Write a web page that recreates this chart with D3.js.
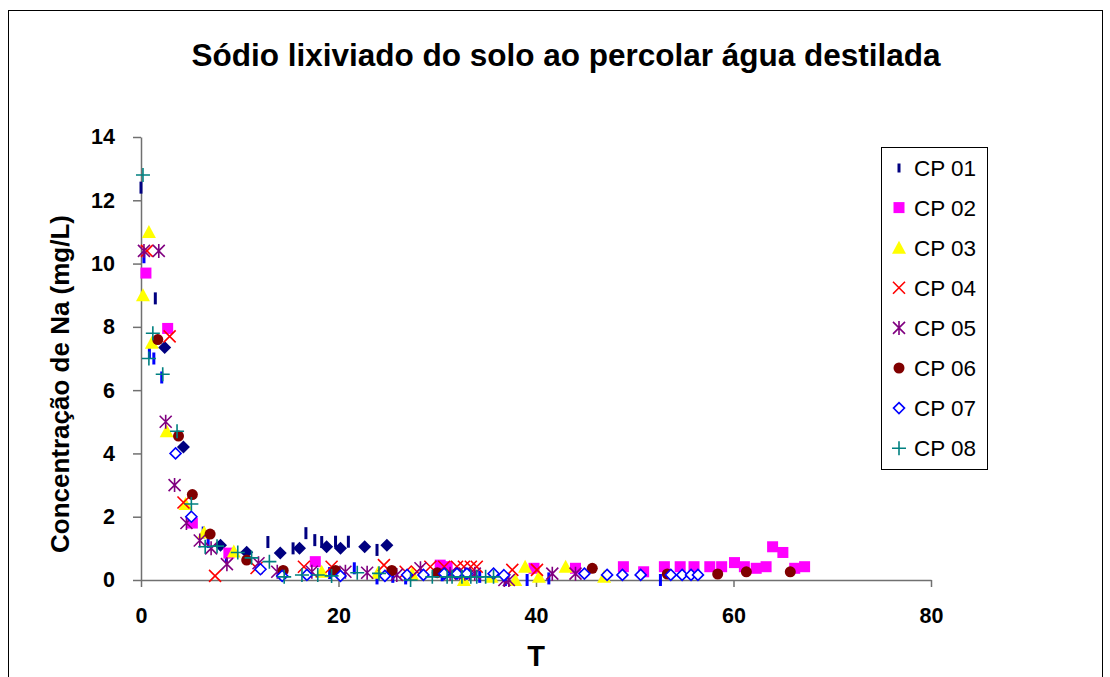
<!DOCTYPE html>
<html>
<head>
<meta charset="utf-8">
<script src="https://cdn.jsdelivr.net/npm/d3@7"></script>
<style>
  html, body { margin: 0; padding: 0; background: #fff; }
  svg { display: block; font-family: "Liberation Sans", Arial, sans-serif; }
</style>
</head>
<body>
<svg id="chart" width="1110" height="677"></svg>
<script>
// Axis ticks
const xTicks = [0, 20, 40, 60, 80];
const yTicks = [0, 2, 4, 6, 8, 10, 12, 14];

// Leaching series: [T, Na mg/L]
const cp01 = [[0, 12.4], [1.45, 8.9], [12.85, 1.2], [15.4, 1.0], [16.7, 1.48], [17.6, 1.26],
  [18.3, 1.2], [19.7, 1.21], [21.0, 1.21], [23.9, 0.95]];
const cp01b = [[0.3, 10.2], [0.85, 7.2], [1.3, 7.0], [2.1, 6.4], [6.3, 1.5], [6.8, 1.2], [8.65, 0.75],
  [19.1, 0.22], [21.6, 0.37], [23.9, 0.05], [25.5, 0.1], [26.8, 0.05], [30.5, 0.15], [34.3, 0.1],
  [36.9, 0.0], [39.1, 0.0], [41.3, 0.05], [52.6, 0.0]];
const cp01d = [[2.4, 7.35], [4.3, 4.2], [8.05, 1.1], [10.7, 0.88], [14.1, 0.85], [16.05, 1.0],
  [18.8, 1.05], [20.2, 1.0], [22.65, 1.05], [24.9, 1.1]];
const cp02 = [[0.5, 9.7], [2.7, 7.95], [5.2, 1.8], [8.9, 0.85], [17.65, 0.58], [30.3, 0.47], [31.0, 0.42],
  [39.8, 0.37], [44.0, 0.37], [48.85, 0.42], [50.9, 0.26], [53.0, 0.42], [54.6, 0.42], [56.0, 0.42],
  [57.6, 0.42], [58.8, 0.42], [60.1, 0.55], [61.1, 0.42], [62.3, 0.37], [63.3, 0.42], [63.96, 1.05],
  [65.0, 0.87], [66.2, 0.37], [67.2, 0.42]];
const cp03 = [[0.2, 9.0], [0.8, 11.0], [1.1, 7.5], [2.6, 4.7], [4.5, 2.4], [6.4, 1.5], [9.4, 0.9],
  [18.3, 0.26], [24.0, 0.23], [27.45, 0.19], [32.7, 0.0], [35.5, 0.1], [37.9, 0.0], [38.9, 0.42],
  [40.3, 0.1], [43.0, 0.42], [46.9, 0.1]];
const cp04 = [[0.6, 10.4], [2.9, 7.7], [4.3, 2.45], [7.5, 0.13], [11.7, 0.38], [16.5, 0.42], [19.3, 0.42],
  [24.6, 0.47], [26.8, 0.26], [27.95, 0.26], [29.3, 0.42], [30.7, 0.42], [32.0, 0.42], [32.7, 0.42],
  [33.4, 0.42], [34.0, 0.42], [37.6, 0.32], [40.1, 0.32]];
const cp05 = [[0.3, 10.4], [1.8, 10.4], [2.5, 5.0], [3.4, 3.0], [4.6, 1.8], [5.95, 1.25], [7.1, 1.0],
  [8.7, 0.5], [11.9, 0.53], [13.8, 0.26], [17.3, 0.26], [20.7, 0.26], [22.9, 0.23], [25.9, 0.16],
  [28.3, 0.37], [31.3, 0.2], [32.8, 0.2], [33.8, 0.2], [36.8, 0.0], [37.25, 0.0], [41.65, 0.2], [44.0, 0.2]];
const cp06 = [[1.7, 7.6], [3.8, 4.55], [5.2, 2.7], [7.0, 1.45], [10.7, 0.63], [14.4, 0.3], [19.7, 0.3],
  [25.4, 0.3], [30.0, 0.23], [45.7, 0.37], [53.3, 0.19], [58.4, 0.19], [61.3, 0.26], [65.75, 0.26]];
const cp07 = [[3.5, 4.0], [5.1, 2.0], [12.1, 0.34], [14.3, 0.13], [16.8, 0.16], [20.2, 0.13], [24.7, 0.13],
  [26.95, 0.16], [28.6, 0.16], [30.7, 0.2], [32.0, 0.2], [33.0, 0.2], [35.7, 0.2], [36.75, 0.15],
  [44.9, 0.2], [47.2, 0.16], [48.75, 0.16], [50.6, 0.16], [53.65, 0.16], [54.8, 0.16], [55.7, 0.16], [56.4, 0.16]];
const cp08 = [[0.2, 12.8], [0.8, 7.0], [1.2, 7.8], [2.2, 6.5], [3.65, 4.7], [5.1, 2.4], [6.5, 1.05],
  [7.7, 1.07], [9.8, 0.87], [11.2, 0.7], [13.0, 0.58], [14.5, 0.1], [16.3, 0.16], [17.9, 0.16],
  [19.3, 0.13], [21.9, 0.23], [24.1, 0.21], [27.3, 0.0], [29.5, 0.1], [31.0, 0.1], [31.5, 0.1],
  [32.5, 0.1], [33.4, 0.1], [34.0, 0.1], [34.9, 0.1], [35.7, 0.1]];

// Series definitions (name, data, marker shape, colour, in legend?)
const series = [
  { name: "", data: cp01d, shape: "diamondFill", color: "#000080", legend: false },
  { name: "CP 01", data: cp01, shape: "dash", color: "#000080", legend: true },
  { name: "", data: cp01b, shape: "dash", color: "#0000FF", legend: false },
  { name: "CP 02", data: cp02, shape: "square", color: "#FF00FF", legend: true },
  { name: "CP 03", data: cp03, shape: "triangle", color: "#FFFF00", legend: true },
  { name: "CP 04", data: cp04, shape: "x", color: "#FF0000", legend: true },
  { name: "CP 05", data: cp05, shape: "star", color: "#800080", legend: true },
  { name: "CP 06", data: cp06, shape: "circle", color: "#800000", legend: true },
  { name: "CP 07", data: cp07, shape: "diamond", color: "#0000FF", legend: true },
  { name: "CP 08", data: cp08, shape: "plus", color: "#008080", legend: true }
];

const svg = d3.select("#chart");

// outer chart frame
svg.append("rect").attr("x", 8.5).attr("y", 10.5).attr("width", 1094).attr("height", 700)
  .attr("fill", "#fff").attr("stroke", "#000").attr("stroke-width", 1);

const x = d3.scaleLinear().domain([0, 80]).range([141, 931]);
const y = d3.scaleLinear().domain([0, 14]).range([580, 137]);

// title
svg.append("text").attr("x", 566).attr("y", 66).attr("text-anchor", "middle")
  .attr("font-size", 31.5).attr("font-weight", "bold")
  .text("Sódio lixiviado do solo ao percolar água destilada");

// axes
const yAxis = svg.append("g").attr("transform", `translate(${x(0)},0)`)
  .call(d3.axisLeft(y).tickValues(yTicks).tickSize(8).tickSizeOuter(0).tickPadding(18).tickFormat(d3.format("d")));
const xAxis = svg.append("g").attr("transform", `translate(0,${y(0)})`)
  .call(d3.axisBottom(x).tickValues(xTicks).tickSize(7).tickSizeOuter(0).tickPadding(21).tickFormat(d3.format("d")));
[yAxis, xAxis].forEach(g => {
  g.selectAll("path, line").attr("stroke", "#707070").attr("stroke-width", 1.5);
  g.selectAll("text").attr("fill", "#000").attr("font-size", 21.5).attr("font-weight", "bold")
    .attr("font-family", "'Liberation Sans', Arial, sans-serif");
});

// axis titles
svg.append("text").attr("transform", "translate(69,384) rotate(-90)").attr("text-anchor", "middle")
  .attr("font-size", 26).attr("font-weight", "bold").text("Concentração de Na (mg/L)");
svg.append("text").attr("x", 536).attr("y", 666).attr("text-anchor", "middle")
  .attr("font-size", 29).attr("font-weight", "bold").text("T");

// marker drawing
function drawMarker(g, shape, color) {
  switch (shape) {
    case "dash":
      g.append("rect").attr("x", -1.5).attr("y", -6).attr("width", 3).attr("height", 12).attr("fill", color);
      break;
    case "square":
      g.append("rect").attr("x", -5.5).attr("y", -5.5).attr("width", 11).attr("height", 11).attr("fill", color);
      break;
    case "triangle":
      g.append("path").attr("d", "M0,-7 L7,6 L-7,6 Z").attr("fill", color);
      break;
    case "x":
      g.append("path").attr("d", "M-6,-6 L6,6 M-6,6 L6,-6").attr("stroke", color).attr("stroke-width", 1.6).attr("fill", "none");
      break;
    case "star":
      g.append("path").attr("d", "M-6,-6 L6,6 M-6,6 L6,-6 M0,-7 L0,7").attr("stroke", color).attr("stroke-width", 1.6).attr("fill", "none");
      break;
    case "circle":
      g.append("circle").attr("r", 5.5).attr("fill", color);
      break;
    case "diamond":
      g.append("path").attr("d", "M0,-5.5 L5.5,0 L0,5.5 L-5.5,0 Z").attr("fill", "#fff").attr("stroke", color).attr("stroke-width", 1.6);
      break;
    case "diamondFill":
      g.append("path").attr("d", "M0,-6.5 L6.5,0 L0,6.5 L-6.5,0 Z").attr("fill", color);
      break;
    case "plus":
      g.append("path").attr("d", "M-7,0 L7,0 M0,-7 L0,7").attr("stroke", color).attr("stroke-width", 1.6).attr("fill", "none");
      break;
  }
}

// data points
const plot = svg.append("g");
series.forEach(s => {
  const grp = plot.append("g").attr("class", "series");
  grp.selectAll("g.pt").data(s.data).join("g").attr("class", "pt")
    .attr("transform", d => `translate(${x(d[0])},${y(d[1])})`)
    .each(function () { drawMarker(d3.select(this), s.shape, s.color); });
});

// legend
const legend = svg.append("g");
legend.append("rect").attr("x", 881.5).attr("y", 147.5).attr("width", 106).attr("height", 322)
  .attr("fill", "#fff").attr("stroke", "#000").attr("stroke-width", 1);
series.filter(s => s.legend).forEach((s, i) => {
  const cy = 167.5 + i * 40.1;
  const g = legend.append("g").attr("transform", `translate(899,${cy})`);
  if (s.shape === "dash") {
    g.append("rect").attr("x", -1.5).attr("y", -4).attr("width", 3).attr("height", 9).attr("fill", s.color);
  } else {
    drawMarker(g, s.shape, s.color);
  }
  legend.append("text").attr("x", 914).attr("y", cy + 8).attr("font-size", 22.5).text(s.name);
});
</script>
</body>
</html>
